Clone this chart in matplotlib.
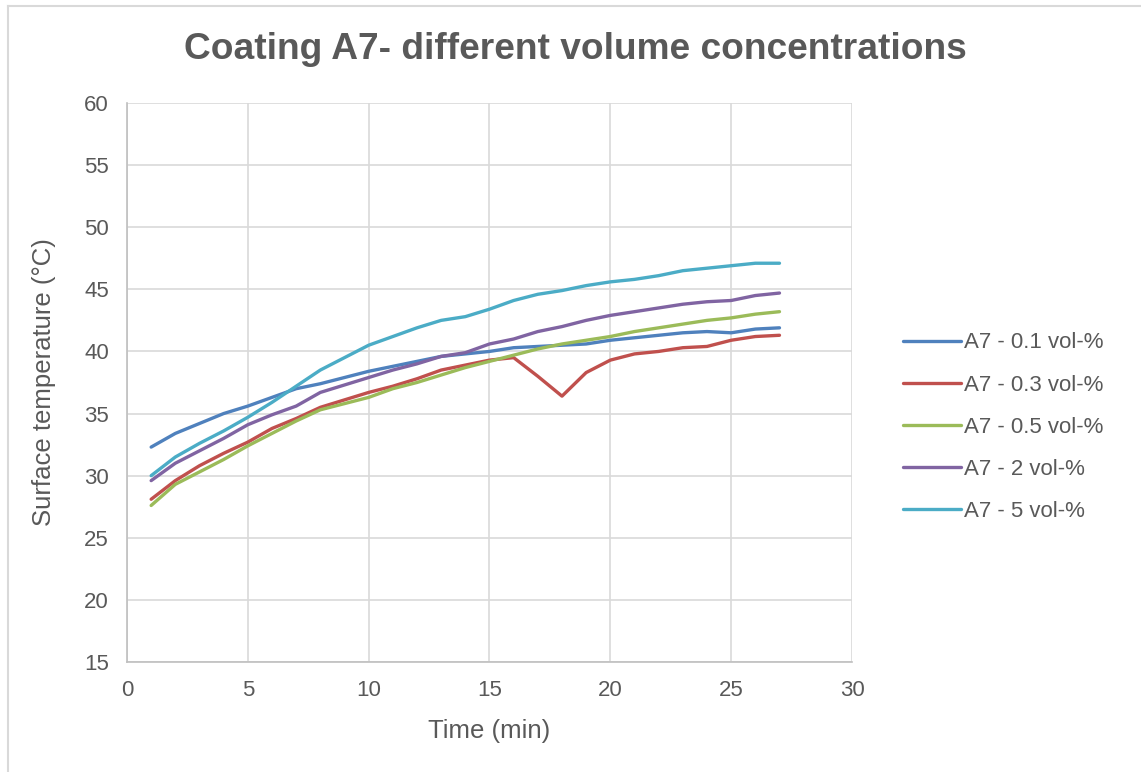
import matplotlib.pyplot as plt
from matplotlib.lines import Line2D

plt.rcParams['font.family'] = ['Liberation Sans', 'DejaVu Sans']

# surface temperature readings, one per minute
time_min = list(range(1, 28))
a7_01 = [32.3, 33.4, 34.2, 35.0, 35.6, 36.3, 37.0, 37.4, 37.9, 38.4, 38.8, 39.2, 39.6, 39.8,
         40.0, 40.3, 40.4, 40.5, 40.6, 40.9, 41.1, 41.3, 41.5, 41.6, 41.5, 41.8, 41.9]
a7_03 = [28.1, 29.6, 30.8, 31.8, 32.7, 33.8, 34.6, 35.5, 36.1, 36.7, 37.2, 37.8, 38.5, 38.9,
         39.3, 39.5, 38.0, 36.4, 38.3, 39.3, 39.8, 40.0, 40.3, 40.4, 40.9, 41.2, 41.3]
a7_05 = [27.6, 29.3, 30.3, 31.3, 32.4, 33.4, 34.4, 35.3, 35.8, 36.3, 37.0, 37.5, 38.1, 38.7,
         39.2, 39.7, 40.2, 40.6, 40.9, 41.2, 41.6, 41.9, 42.2, 42.5, 42.7, 43.0, 43.2]
a7_2 = [29.6, 31.0, 32.0, 33.0, 34.1, 34.9, 35.6, 36.7, 37.3, 37.9, 38.5, 39.0, 39.6, 39.9,
        40.6, 41.0, 41.6, 42.0, 42.5, 42.9, 43.2, 43.5, 43.8, 44.0, 44.1, 44.5, 44.7]
a7_5 = [30.0, 31.5, 32.6, 33.6, 34.7, 35.9, 37.2, 38.5, 39.5, 40.5, 41.2, 41.9, 42.5, 42.8,
        43.4, 44.1, 44.6, 44.9, 45.3, 45.6, 45.8, 46.1, 46.5, 46.7, 46.9, 47.1, 47.1]

series = [a7_01, a7_03, a7_05, a7_2, a7_5]
labels = ['A7 - 0.1 vol-%', 'A7 - 0.3 vol-%', 'A7 - 0.5 vol-%', 'A7 - 2 vol-%', 'A7 - 5 vol-%']
colors = ['#4F81BD', '#C0504D', '#9BBB59', '#8064A2', '#4BACC6']

text_col = '#595959'

fig = plt.figure(figsize=(11.41, 7.72), dpi=100)
ax = fig.add_axes([0.1113, 0.1425, 0.6354, 0.7241])

for ys, lab, c in zip(series, labels, colors):
    ax.plot(time_min, ys, color=c, lw=2.4, label=lab, solid_capstyle='round')

ax.set_xlim(0, 30)
ax.set_ylim(15, 60)
ax.set_xticks(range(0, 31, 5))
ax.set_yticks(range(15, 61, 5))
ax.grid(True, color='#D9D9D9', lw=1.2)
ax.set_axisbelow(True)
for s in ['top', 'right']:
    ax.spines[s].set_visible(False)
for s in ['left', 'bottom']:
    ax.spines[s].set_color('#BFBFBF')
    ax.spines[s].set_linewidth(1.2)
ax.tick_params(length=0, labelsize=16, labelcolor=text_col, pad=13)

ax.set_xlabel('Time (min)', fontsize=18.5, color=text_col, labelpad=13)
ax.set_ylabel('Surface temperature (°C)', fontsize=18.5, color=text_col, labelpad=20)

fig.text(0.5044, 0.936, 'Coating A7- different volume concentrations', ha='center', va='center',
         fontsize=26.7, fontweight='bold', color=text_col)

ax.legend(loc='center left', bbox_to_anchor=(1.043, 0.42), frameon=False, fontsize=16,
          labelcolor=text_col, handlelength=2.6, handletextpad=0.15, labelspacing=0.95)

# chart frame (left and top edges)
fig.add_artist(Line2D([0.0066, 0.0066], [0, 0.992], transform=fig.transFigure, color='#D9D9D9', lw=1.5))
fig.add_artist(Line2D([0.0066, 0.999], [0.992, 0.992], transform=fig.transFigure, color='#D9D9D9', lw=1.5))

fig.savefig('out.png', dpi=100)
